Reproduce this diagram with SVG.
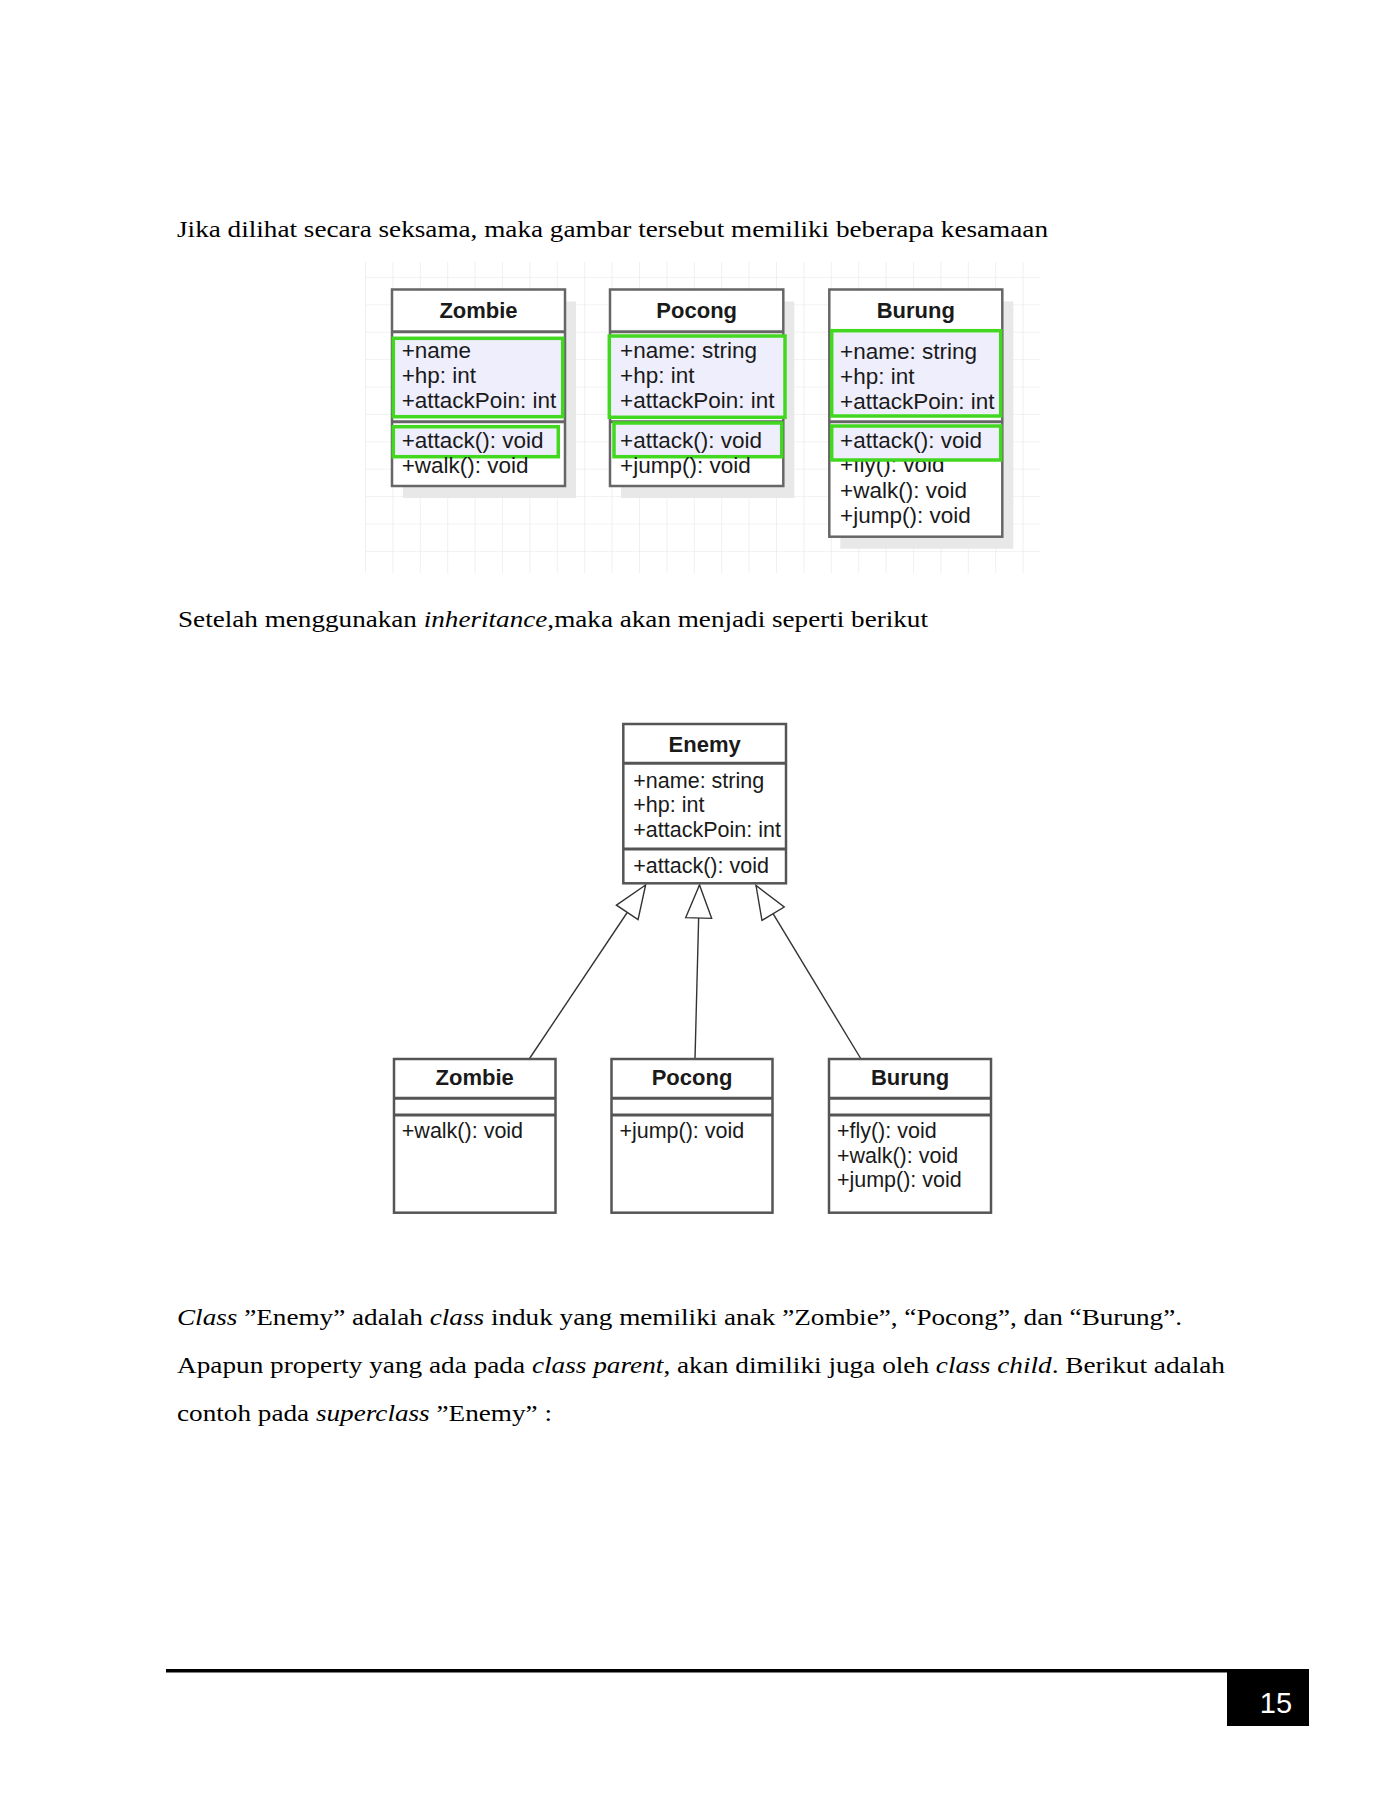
<svg xmlns="http://www.w3.org/2000/svg" width="1390" height="1800" viewBox="0 0 1390 1800">
<style>
.body{font-family:"Liberation Serif","Times New Roman",serif;font-size:24px;fill:#000}
.it{font-style:italic}
.title{font-family:"Liberation Sans",Arial,sans-serif;font-size:22px;font-weight:bold;fill:#1a1a1a;text-anchor:middle}
.m1{font-family:"Liberation Sans",Arial,sans-serif;font-size:22.5px;fill:#1a1a1a}
.m2{font-family:"Liberation Sans",Arial,sans-serif;font-size:21.5px;fill:#1a1a1a}
.box{fill:#fff;stroke:#666;stroke-width:2.5}
.box2{fill:#fff;stroke:#555;stroke-width:2.5}
.sep{stroke:#666;stroke-width:3}
.sep2{stroke:#555;stroke-width:3}
.shadow{fill:#e8e8e8}
.hl{fill:#eeeefc;stroke:#41d81f;stroke-width:3.5}
.conn{stroke:#333;stroke-width:1.4;fill:none}
</style>
<defs>
<pattern id="grid" patternUnits="userSpaceOnUse" x="365" y="276.9" width="27.4" height="27.4">
<path d="M0,0 H27.4 M0,0 V27.4" stroke="#e6e6e6" stroke-width="1.2" fill="none"/>
</pattern>
<marker id="tri" viewBox="0 0 33 26" refX="33" refY="13" markerWidth="33" markerHeight="26" markerUnits="userSpaceOnUse" orient="auto" overflow="visible">
<path d="M0,0 L33,13 L0,26 Z" fill="#fff" stroke="#333" stroke-width="1.4"/>
</marker>
</defs>
<rect width="1390" height="1800" fill="#fff"/>

<text class="body" x="177" y="237" textLength="871" lengthAdjust="spacingAndGlyphs">Jika dilihat secara seksama, maka gambar tersebut memiliki beberapa kesamaan</text>

<g id="diagram1">
<rect x="365" y="261.7" width="675" height="311.6" fill="url(#grid)"/>
<g id="d1-zombie">
<rect class="shadow" x="403" y="301.5" width="173" height="196.5"/>
<rect class="box" x="392" y="289.5" width="173" height="196.5"/>
<line class="sep" x1="392" y1="331.7" x2="565" y2="331.7"/>
<line class="sep" x1="392" y1="421.7" x2="565" y2="421.7"/>
<text class="title" x="478.5" y="318.3">Zombie</text>
<rect class="hl" x="393.3" y="338.3" width="169.4" height="78.4"/>
<text class="m1" x="401.7" y="358.3">+name</text>
<text class="m1" x="401.7" y="383.3">+hp: int</text>
<text class="m1" x="401.7" y="408.3">+attackPoin: int</text>
<rect class="hl" x="393.3" y="426.7" width="165" height="30"/>
<text class="m1" x="401.7" y="448.3">+attack(): void</text>
<text class="m1" x="401.7" y="472.7">+walk(): void</text>
</g>
<g id="d1-pocong">
<rect class="shadow" x="621" y="301.5" width="173.3" height="196.5"/>
<rect class="box" x="610" y="289.5" width="173.3" height="196.5"/>
<line class="sep" x1="610" y1="331.7" x2="783.3" y2="331.7"/>
<line class="sep" x1="610" y1="421.7" x2="783.3" y2="421.7"/>
<text class="title" x="696.7" y="318.3">Pocong</text>
<rect class="hl" x="609.3" y="336" width="175.7" height="81.3"/>
<text class="m1" x="620" y="358.3">+name: string</text>
<text class="m1" x="620" y="383.3">+hp: int</text>
<text class="m1" x="620" y="408.3">+attackPoin: int</text>
<rect class="hl" x="614" y="423" width="167.7" height="33.7"/>
<text class="m1" x="620" y="448.3">+attack(): void</text>
<text class="m1" x="620" y="472.7">+jump(): void</text>
</g>
<g id="d1-burung">
<rect class="shadow" x="840.3" y="301.5" width="173" height="247.2"/>
<rect class="box" x="829.3" y="289.5" width="173" height="247.2"/>
<line class="sep" x1="829.3" y1="331.2" x2="1002.3" y2="331.2"/>
<line class="sep" x1="829.3" y1="421.7" x2="1002.3" y2="421.7"/>
<text class="title" x="915.8" y="318.3">Burung</text>
<rect class="hl" x="831.7" y="330.7" width="169" height="85.3"/>
<text class="m1" x="840" y="359.3">+name: string</text>
<text class="m1" x="840" y="383.8">+hp: int</text>
<text class="m1" x="840" y="409.3">+attackPoin: int</text>
<text class="m1" x="840" y="472">+fly(): void</text>
<rect class="hl" x="831.7" y="426" width="169" height="34"/>
<text class="m1" x="840" y="447.8">+attack(): void</text>
<text class="m1" x="840" y="498.3">+walk(): void</text>
<text class="m1" x="840" y="523.3">+jump(): void</text>
</g>
</g>

<text class="body" x="178" y="627" textLength="750" lengthAdjust="spacingAndGlyphs">Setelah menggunakan <tspan class="it">inheritance</tspan>,maka akan menjadi seperti berikut</text>

<g id="diagram2">
<g id="connectors">
<line class="conn" x1="529.2" y1="1059" x2="645.6" y2="885" marker-end="url(#tri)"/>
<line class="conn" x1="695" y1="1059" x2="699.5" y2="885" marker-end="url(#tri)"/>
<line class="conn" x1="861" y1="1059" x2="756" y2="885.5" marker-end="url(#tri)"/>
</g>
<g id="enemy">
<rect class="box2" x="623.3" y="724" width="162.7" height="159.3"/>
<line class="sep2" x1="623.3" y1="763.3" x2="786" y2="763.3"/>
<line class="sep2" x1="623.3" y1="849" x2="786" y2="849"/>
<text class="title" x="704.7" y="751.7">Enemy</text>
<text class="m2" x="633.3" y="788.3">+name: string</text>
<text class="m2" x="633.3" y="812">+hp: int</text>
<text class="m2" x="633.3" y="836.7">+attackPoin: int</text>
<text class="m2" x="633.3" y="872.7">+attack(): void</text>
</g>
<g id="zombie">
<rect class="box2" x="394" y="1059" width="161.5" height="153.7"/>
<line class="sep2" x1="394" y1="1098.3" x2="555.5" y2="1098.3"/>
<line class="sep2" x1="394" y1="1115" x2="555.5" y2="1115"/>
<text class="title" x="474.7" y="1085">Zombie</text>
<text class="m2" x="401.8" y="1138.3">+walk(): void</text>
</g>
<g id="pocong">
<rect class="box2" x="611.5" y="1059" width="161" height="153.7"/>
<line class="sep2" x1="611.5" y1="1098.3" x2="772.5" y2="1098.3"/>
<line class="sep2" x1="611.5" y1="1115" x2="772.5" y2="1115"/>
<text class="title" x="692" y="1085">Pocong</text>
<text class="m2" x="619.4" y="1138.3">+jump(): void</text>
</g>
<g id="burung">
<rect class="box2" x="829" y="1059" width="162" height="153.7"/>
<line class="sep2" x1="829" y1="1098.3" x2="991" y2="1098.3"/>
<line class="sep2" x1="829" y1="1115" x2="991" y2="1115"/>
<text class="title" x="910" y="1085">Burung</text>
<text class="m2" x="836.9" y="1138.3">+fly(): void</text>
<text class="m2" x="836.9" y="1162.7">+walk(): void</text>
<text class="m2" x="836.9" y="1186.7">+jump(): void</text>
</g>
</g>

<text class="body" x="177" y="1325" textLength="1005" lengthAdjust="spacingAndGlyphs"><tspan class="it">Class</tspan> ”Enemy” adalah <tspan class="it">class</tspan> induk yang memiliki anak ”Zombie”, “Pocong”, dan “Burung”.</text>
<text class="body" x="177" y="1373" textLength="1048" lengthAdjust="spacingAndGlyphs">Apapun property yang ada pada <tspan class="it">class parent</tspan>, akan dimiliki  juga oleh <tspan class="it">class child</tspan>. Berikut adalah</text>
<text class="body" x="177" y="1421" textLength="375" lengthAdjust="spacingAndGlyphs">contoh pada <tspan class="it">superclass</tspan> ”Enemy” :</text>

<g id="footer">
<rect x="166" y="1669" width="1061" height="3.5" fill="#000"/>
<rect x="1227" y="1669" width="82" height="57" fill="#000"/>
<text x="1276" y="1713" font-family="Liberation Sans, Arial, sans-serif" font-size="29" fill="#fff" text-anchor="middle">15</text>
</g>
</svg>
